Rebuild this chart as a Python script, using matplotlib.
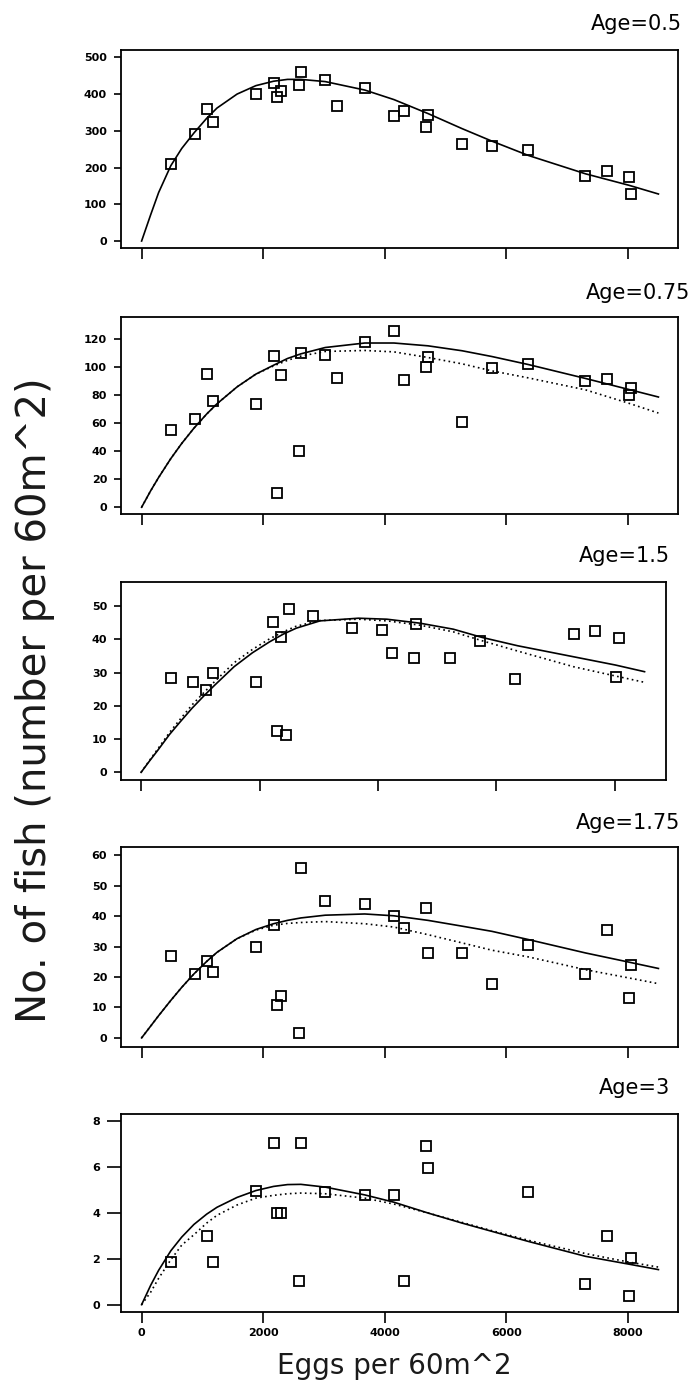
import numpy as np
import matplotlib
matplotlib.use("Agg")
import matplotlib.pyplot as plt

nan = np.nan

# egg density at each site (shared by all ages)
eggs = [480, 870, 1070, 1180, 1880, 2170, 2230, 2300, 2590, 2620, 3020, 3220,
        3670, 4150, 4320, 4670, 4710, 5270, 5760, 6360, 7300, 7660, 8010, 8050]
eggs_15 = [497, 881, 1099, 1212, 1934, 2225, 2292, 2358, 2450, 2490, 2907, nan,
           3563, 4060, 4239, 4603, 4636, 5212, 5716, 6318, 7305, 7670, 8020, 8073]

fish_05 = [211, 290, 359, 323, 401, 430, 393, 409, 426, 459, 438, 367,
           417, 339, 355, 310, 343, 265, 260, 248, 177, 191, 175, 129]
fish_075 = [55, 62.5, 95, 75.5, 73.5, 107.5, 10, 94, 40, 110, 108, 92,
            117.5, 125, 90.5, 100, 106.5, 60.5, 99, 102, 90, 91.5, 80, 85]
fish_15 = [28.5, 27.1, 24.8, 29.8, 27.1, 45.3, 12.5, 40.7, 11.2, 49.3, 47.1, nan,
           43.5, 43.0, 35.8, 34.4, 44.8, 34.4, 39.4, 28.0, 41.7, 42.6, 28.6, 40.3]
fish_175 = [26.9, 21.1, 25.1, 21.5, 30.0, 37.0, 10.7, 13.6, 1.75, 55.8, 45.0, nan,
            44.0, 40.0, 36.0, 42.5, 28.0, 28.0, 17.6, 30.5, 21.1, 35.5, 13.1, 24.0]
fish_3 = [1.88, nan, 3.0, 1.88, 4.97, 7.04, 3.99, 3.99, 1.05, 7.04, 4.92, nan,
          4.79, 4.79, 1.05, 6.91, 5.98, nan, nan, 4.93, 0.9, 3.01, 0.36, 2.02]

# fitted curves
curve_x = [0, 150, 280, 480, 660, 860, 1070, 1240, 1570, 1880, 2170, 2400,
           2620, 3020, 3670, 4150, 4710, 5270, 5760, 6360, 7300, 8010, 8500]
fit_05 = [0, 72, 132, 205, 252, 294, 334, 362, 400, 423, 435, 440,
          440, 434, 411, 385, 347, 306, 272, 233, 183, 152, 128]
fit_075 = [0, 11.8, 21.2, 34.6, 45.4, 56.2, 66.3, 73.6, 85.6, 94.7, 101, 105.8,
           109.1, 113.6, 116.8, 116.8, 114.8, 111.3, 107.2, 101.5, 91.6, 83.8, 78.4]
fit_075b = [0, 11.8, 21.2, 34.6, 45.4, 56.2, 66.3, 73.6, 85.6, 94.7, 100.5, 104.5,
            107.5, 110.8, 111.5, 110.5, 106.5, 102, 97, 92, 83.5, 74, 67]
fit_15 = [0, 3.6, 6.6, 11.4, 15.2, 19.3, 23.2, 26.2, 31.8, 36.0, 39.3, 41.6,
          43.4, 45.6, 46.4, 46.1, 44.9, 43.1, 40.6, 38.1, 34.8, 32.3, 30.3]
fit_15b = [0, 3.8, 7.0, 12.0, 16.0, 20.3, 24.2, 27.3, 33.0, 37.0, 40.2, 42.3,
           44.0, 45.7, 46.1, 45.6, 44.3, 42.3, 39.6, 36.5, 31.8, 29.0, 27.1]
fit_175 = [0, 3.9, 7.3, 12.3, 16.6, 21.0, 25.1, 28.1, 32.6, 35.6, 37.5, 38.6,
           39.4, 40.3, 40.7, 40.1, 38.6, 36.7, 35.0, 32.3, 27.9, 24.9, 22.8]
fit_175b = [0, 3.9, 7.3, 12.3, 16.6, 21.0, 25.1, 28.1, 32.6, 35.4, 37.0, 37.6,
            37.9, 38.2, 37.5, 36.4, 33.9, 31.2, 28.8, 26.6, 22.4, 19.7, 17.8]
fit_3 = [0, 0.85, 1.5, 2.35, 2.95, 3.5, 3.95, 4.25, 4.68, 4.98, 5.16, 5.24,
         5.25, 5.13, 4.79, 4.47, 4.0, 3.56, 3.2, 2.76, 2.11, 1.77, 1.53]
fit_3b = [0, 0.55, 1.15, 1.96, 2.6, 3.05, 3.56, 3.9, 4.35, 4.65, 4.77, 4.84,
          4.87, 4.84, 4.65, 4.39, 4.0, 3.59, 3.23, 2.81, 2.23, 1.86, 1.64]

ages = ["Age=0.5", "Age=0.75", "Age=1.5", "Age=1.75", "Age=3"]
yticks = [range(0, 501, 100), range(0, 121, 20), range(0, 51, 10),
          range(0, 61, 10), range(0, 9, 2)]
xticks = [0, 2000, 4000, 6000, 8000]

W, H = 695, 1388
fig = plt.figure(figsize=(W / 100, H / 100), dpi=100)

# panel boxes in pixels: left, top, right, bottom
boxes = [(121, 50, 678, 248), (121, 317, 678, 514), (121, 582, 666, 780),
         (121, 847, 678, 1047), (121, 1114, 678, 1312)]
ylims = [(-19, 520), (-4.8, 135.3), (-2.3, 57.3), (-3, 62.7), (-0.32, 8.32)]
title_pos = [(682, 24), (690, 293), (670, 556), (680, 823), (670, 1088)]
ytick_len = [5, 5, 5, 5, 10]

points = [(eggs, fish_05), (eggs, fish_075), (eggs_15, fish_15),
          (eggs, fish_175), (eggs, fish_3)]
fits = [(fit_05, None), (fit_075, fit_075b), (fit_15, fit_15b),
        (fit_175, fit_175b), (fit_3, fit_3b)]

for i, (l, t, r, b) in enumerate(boxes):
    ax = fig.add_axes([l / W, 1 - b / H, (r - l) / W, (b - t) / H])
    solid, dotted = fits[i]
    ax.plot(curve_x, solid, color="black", lw=1.2)
    if dotted is not None:
        ax.plot(curve_x, dotted, color="black", lw=1.2, ls=(0, (1, 2)))
    px, py = points[i]
    ax.plot(px, py, ls="none", marker="s", ms=6.5, mfc="none", mec="black", mew=1.3)

    ax.set_xlim(-339, 8822 if i != 2 else 8862)
    ax.set_ylim(*ylims[i])
    ax.set_xticks(xticks)
    ax.set_yticks(list(yticks[i]))
    ax.tick_params(axis="x", direction="out", length=8, width=1.2)
    ax.tick_params(axis="y", direction="out", length=ytick_len[i], width=1.2, pad=5)
    for lab in ax.get_yticklabels():
        lab.set_fontsize(8)
        lab.set_fontweight("bold")
    if i == len(boxes) - 1:
        ax.set_xticklabels([str(v) for v in xticks], fontsize=8, fontweight="bold")
    else:
        ax.set_xticklabels([])
    for sp in ax.spines.values():
        sp.set_linewidth(1.3)

    tx, ty = title_pos[i]
    fig.text(tx / W, 1 - ty / H, ages[i], ha="right", va="center",
             fontsize=15, family="DejaVu Sans")

fig.text(35 / W, 1 - 700 / H, "No. of fish (number per 60m^2)", rotation=90,
         ha="center", va="center", fontsize=29, family="DejaVu Sans", color="#1a1a1a")
fig.text(394 / W, 1 - 1366 / H, "Eggs per 60m^2", ha="center", va="center",
         fontsize=20, family="DejaVu Sans", color="#1a1a1a")

fig.savefig("out.png", dpi=100)
